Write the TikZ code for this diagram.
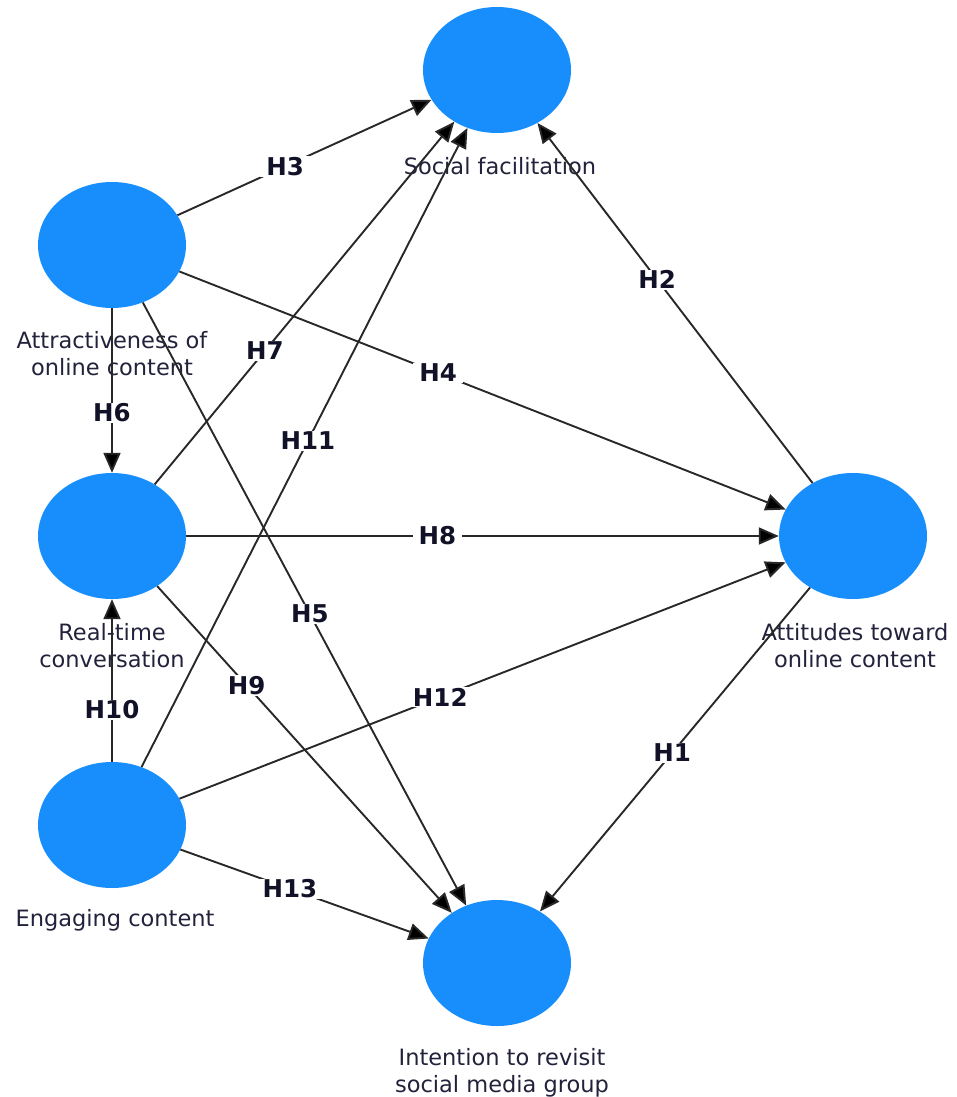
\documentclass[tikz,border=0pt]{standalone}
\usepackage{fontspec}
\setmainfont{DejaVu Sans}
\usetikzlibrary{shapes.geometric,arrows.meta,calc}
\definecolor{nodeblue}{RGB}{24,142,252}
\definecolor{edgegray}{RGB}{40,40,40}
\definecolor{txtnavy}{RGB}{34,34,60}
\definecolor{labnavy}{RGB}{17,17,40}
\begin{document}
\begin{tikzpicture}[x=1pt,y=-1pt,
  construct/.style={ellipse,fill=nodeblue,draw=none,minimum width=148pt,minimum height=126pt,inner sep=0pt},
  ctext/.style={text=txtnavy,align=center,font=\fontsize{22.5}{27}\selectfont},
  edge/.style={draw=edgegray,line width=1.9pt,-{Triangle[length=20pt,width=17pt,fill=black]}},
  hlab/.style={fill=white,text=labnavy,inner xsep=6pt,inner ysep=1pt,font=\fontsize{24.5}{28}\selectfont\bfseries}]
\useasboundingbox (0,0) rectangle (956,1097);
% constructs
\node[construct] (sf) at (497,70) {};
\node[construct] (attr) at (112,245) {};
\node[construct] (rt) at (112,536) {};
\node[construct] (eng) at (112,825) {};
\node[construct] (att) at (853,536) {};
\node[construct] (intn) at (497,963) {};
% construct names
\node[ctext] (sft) at (500,166) {Social facilitation};
\node[ctext] (attrt) at (112,354) {Attractiveness of\\online content};
\node[ctext] (rtt) at (112,646) {Real-time\\conversation};
\node[ctext] (engt) at (115,920) {Engaging content};
\node[ctext] (attt) at (855,646) {Attitudes toward\\online content};
\node[ctext] (intnt) at (502,1073) {Intention to revisit\\social media group};
% paths
\draw[edge] (attr) -- (sf);
\draw[edge] (attr) -- (att);
\draw[edge] (attr) -- (intn);
\draw[edge] (attr) -- (rt);
\draw[edge] (rt) -- (sf);
\draw[edge] (rt) -- (att);
\draw[edge] (rt) -- (intn);
\draw[edge] (eng) -- (rt);
\draw[edge] (eng) -- (sf);
\draw[edge] (eng) -- (att);
\draw[edge] (eng) -- (intn);
\draw[edge] (att) -- (intn);
\draw[edge] (att) -- (sf);
% hypothesis labels
\node[hlab] (h3) at ($(attr.center)!0.45!(sf.center)$) {H3};
\node[hlab] (h4) at ($(attr.center)!0.44!(att.center)$) {H4};
\node[hlab] (h5) at ($(attr.center)!0.514!(intn.center)$) {H5};
\node[hlab] (h6) at ($(attr.center)!0.577!(rt.center)$) {H6};
\node[hlab] (h7) at ($(rt.center)!0.397!(sf.center)$) {H7};
\node[hlab] (h8) at ($(rt.center)!0.439!(att.center)$) {H8};
\node[hlab] (h9) at ($(rt.center)!0.35!(intn.center)$) {H9};
\node[hlab] (h10) at ($(eng.center)!0.398!(rt.center)$) {H10};
\node[hlab] (h11) at ($(eng.center)!0.509!(sf.center)$) {H11};
\node[hlab] (h12) at ($(eng.center)!0.443!(att.center)$) {H12};
\node[hlab] (h13) at ($(eng.center)!0.462!(intn.center)$) {H13};
\node[hlab] (h1) at ($(att.center)!0.508!(intn.center)$) {H1};
\node[hlab] (h2) at ($(att.center)!0.55!(sf.center)$) {H2};
\end{tikzpicture}
\end{document}
